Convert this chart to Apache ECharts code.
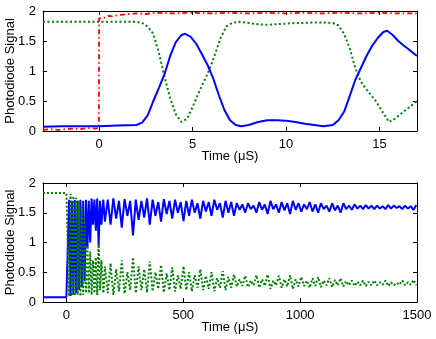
<!DOCTYPE html>
<html>
<head>
<meta charset="utf-8">
<script src="https://cdn.jsdelivr.net/npm/echarts@6/dist/echarts.min.js"></script>
<style>
  html, body { margin: 0; padding: 0; background: #fff; }
  #main { width: 436px; height: 339px; }
</style>
</head>
<body>
<div id="main"></div>
<script>
// top panel, short time window (uS)
const topRedT = [-3, -2.6, -2.2, -1.8, -1.4, -1, -0.6, -0.2, -0.01, 0, 0.15, 0.3, 0.5, 0.7, 1, 1.3, 1.6, 2, 2.5, 3, 4, 5, 6, 7, 8, 9, 10, 11, 12, 13, 14, 15, 16, 17];
const topRed = [0.02, 0.03, 0.02, 0.03, 0.04, 0.03, 0.05, 0.04, 0.05, 1.87, 1.9, 1.89, 1.92, 1.91, 1.93, 1.94, 1.95, 1.96, 1.95, 1.97, 1.96, 1.97, 1.96, 1.97, 1.96, 1.97, 1.96, 1.97, 1.96, 1.97, 1.96, 1.97, 1.96, 1.96];

const topGreenT = [-3, 0, 1, 2, 2.3, 2.6, 2.9, 3.2, 3.5, 3.8, 4.1, 4.4, 4.7, 5.0, 5.3, 5.6, 5.9, 6.2, 6.5, 6.8, 7.1, 7.5, 8, 8.5, 9, 9.5, 10, 10.5, 11, 11.5, 12, 12.5, 12.8, 13.1, 13.4, 13.7, 14.0, 14.4, 14.8, 15.2, 15.5, 15.8, 16.2, 16.6, 17];
const topGreen = [1.82, 1.82, 1.82, 1.82, 1.8, 1.74, 1.62, 1.3, 0.9, 0.55, 0.28, 0.15, 0.2, 0.4, 0.62, 0.82, 1.02, 1.28, 1.55, 1.74, 1.8, 1.82, 1.8, 1.78, 1.77, 1.78, 1.79, 1.8, 1.8, 1.81, 1.81, 1.8, 1.76, 1.62, 1.38, 1.05, 0.82, 0.65, 0.5, 0.3, 0.15, 0.2, 0.3, 0.4, 0.5];

const topBlueT = [-3, -2, -1, 0, 1, 2, 2.3, 2.6, 2.9, 3.2, 3.5, 3.8, 4.1, 4.4, 4.6, 4.9, 5.2, 5.5, 5.8, 6.1, 6.4, 6.7, 7.0, 7.3, 7.6, 8, 8.5, 9, 9.5, 10, 10.5, 11, 11.5, 12, 12.5, 12.8, 13.1, 13.4, 13.7, 14.0, 14.3, 14.6, 14.9, 15.2, 15.4, 15.7, 16.0, 16.3, 16.6, 17];
const topBlue = [0.07, 0.08, 0.08, 0.08, 0.09, 0.1, 0.14, 0.26, 0.5, 0.72, 0.95, 1.25, 1.48, 1.6, 1.62, 1.57, 1.45, 1.28, 1.1, 0.88, 0.6, 0.35, 0.18, 0.1, 0.08, 0.1, 0.15, 0.18, 0.18, 0.17, 0.15, 0.12, 0.1, 0.08, 0.1, 0.18, 0.32, 0.58, 0.85, 1.05, 1.25, 1.42, 1.55, 1.65, 1.67, 1.6, 1.5, 1.42, 1.35, 1.25];

// bottom panel, long time window (uS)
const botT = [-100, 0, 8, 12, 18, 24, 30, 36, 42, 48, 54, 60, 66, 72, 78, 84, 90, 96, 102, 108, 114, 120, 126, 132, 138, 144, 150, 158,
  165, 177, 189, 201, 213, 225, 237, 249, 261, 273, 285, 297, 309, 321, 333, 345, 357, 369, 381, 393, 405, 417, 429, 441, 453, 465, 477, 489,
  501, 513, 525, 537, 549, 561, 573, 585, 597, 609, 621, 633, 645, 657, 669, 681, 693, 705, 717, 729, 741, 753, 765, 777, 789, 801, 813, 825,
  837, 849, 861, 873, 885, 897, 909, 921, 933, 945, 957, 969, 981, 993, 1005, 1017, 1029, 1041, 1053, 1065, 1077, 1089, 1101, 1113, 1125, 1137,
  1149, 1161, 1173, 1185, 1197, 1209, 1221, 1233, 1245, 1257, 1269, 1281, 1293, 1305, 1317, 1329, 1341, 1353, 1365, 1377, 1389, 1401, 1413, 1425,
  1437, 1449, 1461, 1473, 1485, 1497];
const botBlue = [0.08, 0.08, 0.08, 1.72, 0.1, 1.7, 0.12, 1.72, 0.15, 1.7, 0.2, 1.72, 0.25, 1.7, 0.35, 1.72, 0.9, 1.7, 1.0, 1.74, 1.3, 1.72, 1.2, 1.74, 0.95, 1.7, 1.3, 1.72,
  1.35, 1.72, 1.3, 1.74, 1.4, 1.7, 1.25, 1.73, 1.45, 1.7, 1.12, 1.72, 1.38, 1.7, 1.42, 1.74, 1.3, 1.72, 1.45, 1.68, 1.35, 1.73, 1.48, 1.7, 1.4, 1.72, 1.5, 1.68,
  1.36, 1.7, 1.45, 1.72, 1.5, 1.66, 1.4, 1.7, 1.52, 1.68, 1.45, 1.72, 1.55, 1.66, 1.42, 1.7, 1.5, 1.68, 1.45, 1.66, 1.55, 1.64, 1.5, 1.66, 1.56, 1.62, 1.5, 1.68,
  1.55, 1.64, 1.48, 1.7, 1.56, 1.64, 1.5, 1.68, 1.54, 1.66, 1.48, 1.7, 1.55, 1.66, 1.52, 1.64, 1.56, 1.68, 1.52, 1.64, 1.5, 1.66, 1.56, 1.62, 1.52, 1.66,
  1.54, 1.62, 1.5, 1.66, 1.56, 1.62, 1.55, 1.64, 1.57, 1.62, 1.56, 1.63, 1.57, 1.62, 1.56, 1.62, 1.57, 1.61, 1.56, 1.63, 1.57, 1.62, 1.58, 1.61,
  1.56, 1.62, 1.57, 1.61, 1.55, 1.63];
const botGreen = [1.83, 1.83, 1.83, 0.1, 1.82, 0.1, 1.78, 0.1, 1.75, 0.12, 1.7, 0.1, 1.6, 0.12, 1.4, 0.15, 0.95, 0.15, 0.85, 0.12, 0.7, 0.15, 0.75, 0.12, 1.0, 0.2, 0.7, 0.15,
  0.6, 0.15, 0.65, 0.12, 0.55, 0.18, 0.7, 0.14, 0.5, 0.2, 0.75, 0.15, 0.6, 0.2, 0.55, 0.16, 0.68, 0.18, 0.5, 0.22, 0.62, 0.16, 0.48, 0.2, 0.58, 0.18, 0.45, 0.22,
  0.6, 0.2, 0.5, 0.18, 0.45, 0.24, 0.55, 0.2, 0.44, 0.22, 0.5, 0.18, 0.4, 0.24, 0.52, 0.2, 0.42, 0.24, 0.46, 0.26, 0.38, 0.27, 0.44, 0.25, 0.36, 0.28, 0.45, 0.24,
  0.38, 0.27, 0.46, 0.22, 0.36, 0.28, 0.44, 0.24, 0.38, 0.26, 0.45, 0.22, 0.38, 0.26, 0.42, 0.27, 0.36, 0.24, 0.4, 0.27, 0.42, 0.25, 0.36, 0.28, 0.4, 0.25,
  0.37, 0.28, 0.4, 0.26, 0.35, 0.28, 0.36, 0.27, 0.34, 0.28, 0.36, 0.27, 0.34, 0.28, 0.36, 0.28, 0.33, 0.29, 0.36, 0.27, 0.33, 0.28, 0.32, 0.29,
  0.36, 0.28, 0.33, 0.29, 0.37, 0.28];

const yTicks = [0, 0.5, 1, 1.5, 2];
const topXTicks = [0, 5, 10, 15];
const botXTicks = [0, 500, 1000, 1500];

const FONT = 'Liberation Sans';
const BLUE = '#0000ff', GREEN = '#008000', RED = '#ff0000';

function pairs(xs, ys) {
    return xs.map(function (x, i) { return [x, ys[i]]; });
}

function plain(v) {
    return String(v);
}

function xAxes(gridIndex, min, max, ticks) {
    const base = {
        type: 'value', gridIndex: gridIndex, min: min, max: max,
        axisLine: {show: true, onZero: false, lineStyle: {color: '#000', width: 1}},
        axisTick: {show: true, inside: true, length: 4, customValues: ticks, lineStyle: {color: '#000'}},
        splitLine: {show: false}
    };
    return [
        Object.assign({}, base, {
            position: 'bottom',
            name: 'Time (μS)', nameLocation: 'middle', nameGap: 19, nameMoveOverlap: false,
            nameTextStyle: {fontFamily: FONT, fontSize: 13, color: '#000'},
            axisLabel: {show: true, customValues: ticks, formatter: plain, margin: 7, fontFamily: FONT, fontSize: 13, color: '#000'}
        }),
        Object.assign({}, base, {position: 'top', axisLabel: {show: false}})
    ];
}

function yAxes(gridIndex) {
    const base = {
        type: 'value', gridIndex: gridIndex, min: 0, max: 2, interval: 0.5,
        axisLine: {show: true, onZero: false, lineStyle: {color: '#000', width: 1}},
        axisTick: {show: true, inside: true, length: 4, customValues: yTicks, lineStyle: {color: '#000'}},
        splitLine: {show: false}
    };
    return [
        Object.assign({}, base, {
            position: 'left',
            name: 'Photodiode Signal', nameLocation: 'middle', nameGap: 26, nameMoveOverlap: false,
            nameTextStyle: {fontFamily: FONT, fontSize: 13, color: '#000'},
            axisLabel: {show: true, customValues: yTicks, formatter: plain, margin: 7, fontFamily: FONT, fontSize: 13, color: '#000'}
        }),
        Object.assign({}, base, {position: 'right', axisLabel: {show: false}})
    ];
}

function line(name, xi, yi, data, color, type, width) {
    return {
        name: name, type: 'line', xAxisIndex: xi, yAxisIndex: yi,
        data: data, showSymbol: false, symbol: 'none', animation: false,
        lineStyle: {color: color, width: width, type: type}
    };
}

const myChart = echarts.init(document.getElementById('main'), null, {renderer: 'canvas'});
const option = {
    animation: false,
    backgroundColor: '#fff',
    grid: [
        {left: 43, right: 19, top: 11, height: 120, containLabel: false, outerBoundsMode: 'none'},
        {left: 43, right: 19, top: 183, height: 119, containLabel: false, outerBoundsMode: 'none'}
    ],
    xAxis: xAxes(0, -3, 17, topXTicks).concat(xAxes(1, -100, 1500, botXTicks)),
    yAxis: yAxes(0).concat(yAxes(1)),
    series: [
        line('red', 0, 0, pairs(topRedT, topRed), RED, [5, 3, 1.5, 3], 1.8),
        line('green', 0, 0, pairs(topGreenT, topGreen), GREEN, [2, 2.5], 2),
        line('blue', 0, 0, pairs(topBlueT, topBlue), BLUE, 'solid', 2),
        line('blue2', 2, 2, pairs(botT, botBlue), BLUE, 'solid', 2),
        line('green2', 2, 2, pairs(botT, botGreen), GREEN, [2, 2], 2)
    ]
};
myChart.setOption(option);
</script>
</body>
</html>
